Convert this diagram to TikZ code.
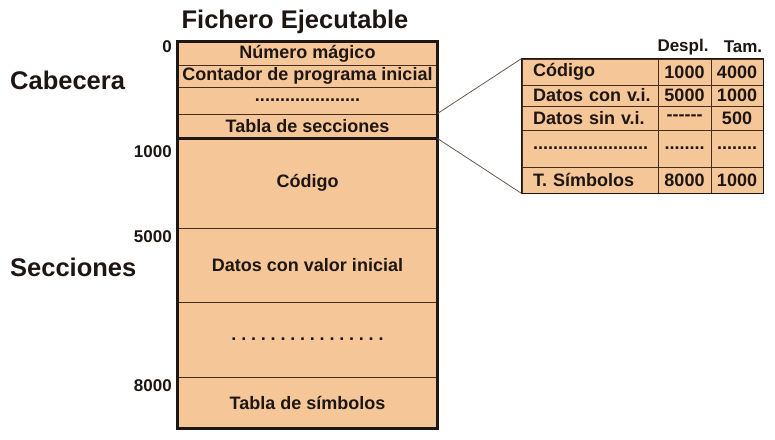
\documentclass[tikz,border=0pt]{standalone}
\usepackage{fontspec}
\setmainfont{Liberation Sans}
\definecolor{tan}{RGB}{245,198,152}
\definecolor{ink}{RGB}{30,22,18}
\definecolor{rule}{RGB}{70,45,30}
\newcommand\tablerow[6]{%
  \node[cellbox,minimum width=136pt,minimum height=#3pt,text width=124pt,align=left] (t#1a) at (590,#2) {\hspace*{5pt}\mbox{#4}};
  \node[cellbox,minimum width=53pt,minimum height=#3pt] (t#1b) at (684.5,#2) {#5};
  \node[cellbox,minimum width=52pt,minimum height=#3pt] (t#1c) at (737,#2) {#6};}
\newcommand\spdots{\foreach \k in {1,...,15}{.\hspace{4.8pt}}.}
\begin{document}
\begin{tikzpicture}[x=1pt,y=-1pt,
  cellbox/.style={draw=rule,line width=0.9pt,fill=tan,inner sep=0pt,text=ink,
    font=\fontsize{18}{20}\selectfont\bfseries},
  big/.style={text=ink,font=\fontsize{25.5}{28}\selectfont\bfseries,inner sep=0pt},
  addr/.style={text=ink,font=\fontsize{17}{19}\selectfont\bfseries,inner sep=0pt,anchor=east},
  hdr/.style={text=ink,font=\fontsize{17}{19}\selectfont\bfseries,inner sep=0pt},
  link/.style={draw=rule!80,line width=0.8pt}]
\useasboundingbox (0,0) rectangle (775,439);
% main file
\node[cellbox,minimum width=259pt,minimum height=23pt] (h1) at (307.5,53.5) {Número mágico};
\node[cellbox,minimum width=259pt,minimum height=22pt] (h2) at (307.5,76) {Contador de programa inicial};
\node[cellbox,minimum width=259pt,minimum height=27pt] (h3) at (307.5,100.5) {.....................};
\node[cellbox,minimum width=259pt,minimum height=24pt] (h4) at (307.5,126) {Tabla de secciones};
\node[cellbox,minimum width=259pt,minimum height=90pt] (s1) at (307.5,183) {Código};
\node[cellbox,minimum width=259pt,minimum height=74pt] (s2) at (307.5,265) {Datos con valor inicial};
\node[cellbox,minimum width=259pt,minimum height=75pt] (s3) at (307.5,339.5) {\spdots};
\node[cellbox,minimum width=259pt,minimum height=51pt] (s4) at (307.5,402.5) {Tabla de símbolos};
\draw[ink,line width=3pt] (h1.north west) rectangle (s4.south east);
\draw[ink,line width=3pt] (h4.south west) -- (h4.south east);
% title and labels
\node[big] (title) at (295,22) {Fichero Ejecutable};
\node[big,anchor=west] (cab) at (10,80) {Cabecera};
\node[big,anchor=west] (sec) at (10,267) {Secciones};
\node[addr] (a0) at (172,47) {0};
\node[addr] (a1) at (172,152) {1000};
\node[addr] (a5) at (172,237) {5000};
\node[addr] (a8) at (172,386) {8000};
% section table
\node[hdr] (hd) at (683,47) {Despl.};
\node[hdr] (ht) at (743,47) {Tam.};
\tablerow{1}{72}{26}{Código}{1000}{4000}
\tablerow{2}{95.5}{21}{Datos con v.i.}{5000}{1000}
\tablerow{3}{118}{24}{Datos sin v.i.}{-{}-{}-{}-{}-{}-}{500}
\tablerow{4}{148.5}{37}{.......................}{........}{........}
\tablerow{5}{180}{26}{T. Símbolos}{8000}{1000}
\draw[ink,line width=1.8pt] (t1a.north west) rectangle (t5c.south east);
% connectors
\draw[link] (h4.north east) -- (t1a.north west);
\draw[link] (h4.south east) -- (t5a.south west);
\end{tikzpicture}
\end{document}
